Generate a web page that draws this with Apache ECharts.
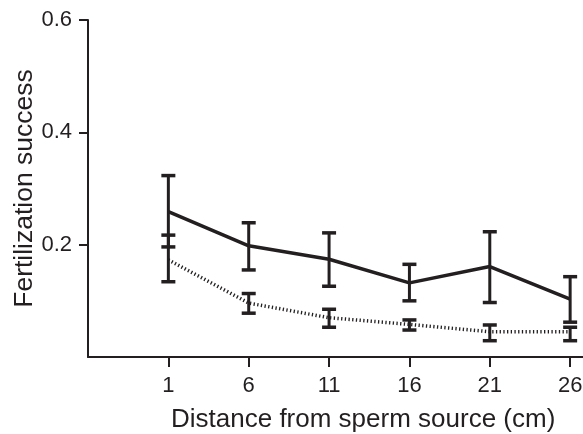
<!DOCTYPE html>
<html>
<head>
<meta charset="utf-8">
<script src="https://cdn.jsdelivr.net/npm/echarts@6/dist/echarts.min.js"></script>
<style>
  html, body { margin: 0; padding: 0; background: #fff; }
  #chart { width: 583px; height: 434px; }
</style>
</head>
<body>
<div id="chart"></div>
<script>
// distance from sperm source (cm)
const distances = [1, 6, 11, 16, 21, 26];

// solid line: mean with error bar
const solidMean = [0.259, 0.198, 0.174, 0.132, 0.161, 0.103];
const solidLow = [0.134, 0.155, 0.126, 0.100, 0.097, 0.062];
const solidHigh = [0.323, 0.239, 0.221, 0.165, 0.223, 0.143];

// dotted line and its error bars
const dottedMean = [0.173, 0.096, 0.070, 0.058, 0.045, 0.045];
const dottedLow = [0.196, 0.078, 0.053, 0.048, 0.029, 0.029];
const dottedHigh = [0.217, 0.113, 0.085, 0.066, 0.057, 0.053];

const yTicks = [0.2, 0.4, 0.6];

const ink = '#231f20';
const font = "'Liberation Sans', Arial, sans-serif";

function pairs(xs, ys) {
  return xs.map((x, i) => [x, ys[i]]);
}

function errorData(low, high) {
  return distances.map((x, i) => [x, low[i], high[i]]);
}

function renderErrorBar(params, api) {
  const top = api.coord([api.value(0), api.value(2)]);
  const bot = api.coord([api.value(0), api.value(1)]);
  const half = 7;
  const style = { stroke: ink, lineWidth: 3 };
  const cap = { stroke: ink, lineWidth: 3.5 };
  return {
    type: 'group',
    children: [
      { type: 'line', shape: { x1: top[0], y1: top[1], x2: bot[0], y2: bot[1] }, style },
      { type: 'line', shape: { x1: top[0] - half, y1: top[1], x2: top[0] + half, y2: top[1] }, style: cap },
      { type: 'line', shape: { x1: bot[0] - half, y1: bot[1], x2: bot[0] + half, y2: bot[1] }, style: cap }
    ]
  };
}

const chart = echarts.init(document.getElementById('chart'));
chart.setOption({
  animation: false,
  title: {
    text: 'Distance from sperm source (cm)',
    left: 171,
    top: 407,
    padding: 0,
    textStyle: { fontFamily: font, fontSize: 26, fontWeight: 'normal', color: ink }
  },
  grid: { left: 88, right: 0, top: 20, bottom: 77, containLabel: false, outerBoundsMode: 'none' },
  xAxis: {
    type: 'value',
    min: -4,
    max: 26.8,
    splitLine: { show: false },
    axisLine: { lineStyle: { color: ink, width: 2 } },
    axisTick: { customValues: distances, length: 10, lineStyle: { color: ink, width: 2 } },
    axisLabel: {
      customValues: distances,
      margin: 18,
      fontFamily: font,
      fontSize: 22,
      color: ink
    }
  },
  yAxis: {
    type: 'value',
    min: 0,
    max: 0.6,
    name: 'Fertilization success',
    nameLocation: 'middle',
    nameGap: 50,
    nameMoveOverlap: false,
    nameTextStyle: { fontFamily: font, fontSize: 26.5, color: ink },
    splitLine: { show: false },
    axisLine: { show: true, onZero: false, lineStyle: { color: ink, width: 2 } },
    axisTick: { show: true, customValues: yTicks, length: 9, lineStyle: { color: ink, width: 2 } },
    axisLabel: {
      customValues: yTicks,
      margin: 16,
      fontFamily: font,
      fontSize: 22,
      color: ink,
      formatter: v => v.toFixed(1)
    }
  },
  series: [
    {
      type: 'line',
      data: pairs(distances, dottedMean),
      symbol: 'none',
      lineStyle: { color: ink, width: 3.5, type: [1.3, 2.4] },
      z: 2
    },
    {
      type: 'custom',
      data: errorData(dottedLow, dottedHigh),
      renderItem: renderErrorBar,
      z: 3
    },
    {
      type: 'line',
      data: pairs(distances, solidMean),
      symbol: 'none',
      lineStyle: { color: ink, width: 3.5 },
      z: 4
    },
    {
      type: 'custom',
      data: errorData(solidLow, solidHigh),
      renderItem: renderErrorBar,
      z: 5
    }
  ]
});
</script>
</body>
</html>
